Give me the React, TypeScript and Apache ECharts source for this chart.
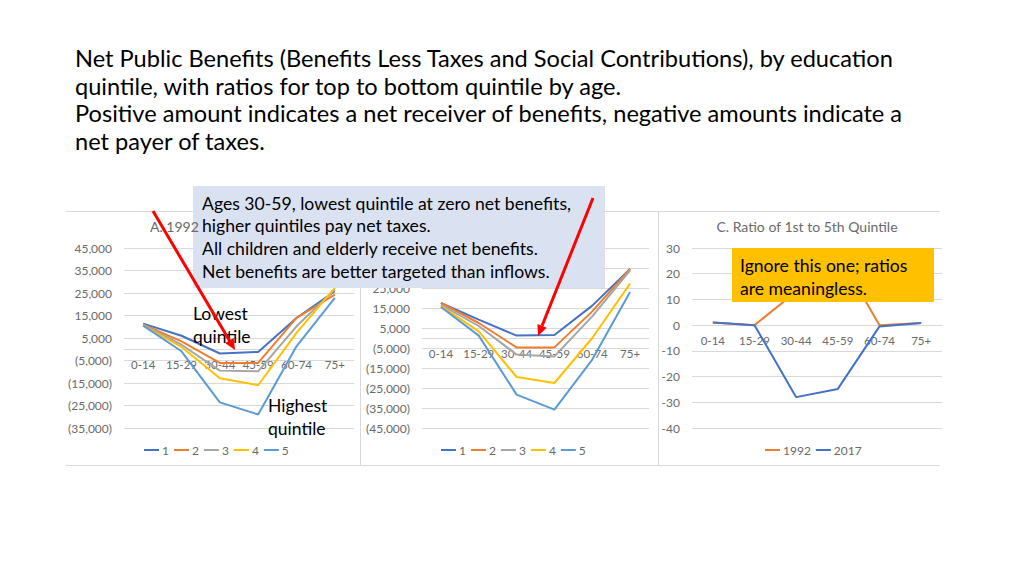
import React, { useEffect, useRef } from "react";
import * as echarts from "echarts";

const categories = ["0-14", "15-29", "30-44", "45-59", "60-74", "75+"];
const quintileNames = ["1", "2", "3", "4", "5"];
const quintileColors = ["#4472C4", "#ED7D31", "#A5A5A5", "#FFC000", "#5B9BD5"];

// A. 1992 net public benefits by quintile
const a1992Q1 = [11400, 6000, -1900, -1200, 13900, 25800];
const a1992Q2 = [11000, 3500, -6100, -6100, 13900, 24300];
const a1992Q3 = [10800, 2000, -9500, -9800, 10200, 26500];
const a1992Q4 = [10500, 1000, -12900, -16000, 7300, 27300];
const a1992Q5 = [10500, -900, -23600, -29000, 1300, 22800];

// B. 2017 net public benefits by quintile
const b2017Q1 = [17500, 9200, 1200, 1500, 16200, 34500];
const b2017Q2 = [17500, 7500, -4700, -4700, 13300, 34500];
const b2017Q3 = [16500, 6000, -8300, -9200, 10800, 33800];
const b2017Q4 = [16000, 3300, -19500, -22500, 0, 27200];
const b2017Q5 = [15500, 1200, -28300, -35800, -10800, 23000];

// C. Ratio series
const ratio1992 = [1, 0, 13, 28, 0, 0.8];
const ratio2017 = [1, 0, -28, -24.8, -0.5, 0.8];

// tick values
const ticksA = [-35000, -25000, -15000, -5000, 5000, 15000, 25000, 35000, 45000];
const ticksB = [-45000, -35000, -25000, -15000, -5000, 5000, 15000, 25000, 35000, 45000];
const labelsB = [-45000, -35000, -25000, -15000, -5000, 5000, 15000, 25000];

const titleLines = [
  "Net Public Benefits (Benefits Less Taxes and Social Contributions), by education",
  "quintile, with ratios for top to bottom quintile by age.",
  "Positive amount indicates a net receiver of benefits, negative amounts indicate a",
  "net payer of taxes.",
];
const calloutLines = [
  "Ages 30-59, lowest quintile at zero net benefits,",
  "higher quintiles pay net taxes.",
  "All children and elderly receive net benefits.",
  "Net benefits are better targeted than inflows.",
];
const ignoreLines = ["Ignore this one; ratios", "are meaningless."];

const FONT = "Lato";
const GRAY = "#6a6a6a";
const GRID = "#D9D9D9";
const GRID_TOP = 248;
const GRID_H = 180;

const fmtParen = (v: number) => {
  const s = Math.abs(v).toLocaleString("en-US");
  return v < 0 ? `(${s})` : s;
};

function makeX(gridIndex: number, min: number, max: number) {
  // place the category axis at the value 0 of the paired value axis
  const zeroY = GRID_TOP + (max / (max - min)) * GRID_H;
  const offset = -(GRID_TOP + GRID_H - zeroY);
  return {
    type: "category",
    gridIndex,
    data: categories,
    position: "bottom",
    offset,
    axisLine: { onZero: false, lineStyle: { color: GRID, width: 1 } },
    axisTick: { show: false },
    axisLabel: { color: GRAY, fontSize: 11.5, fontFamily: FONT, margin: 9, interval: 0 },
  };
}

function makeY(
  gridIndex: number,
  min: number,
  max: number,
  ticks: number[] | null,
  labels: number[] | null,
  fmt?: (v: number) => string
) {
  const y: any = {
    type: "value",
    gridIndex,
    min,
    max,
    axisLine: { show: false },
    axisTick: { show: false },
    splitLine: { lineStyle: { color: GRID, width: 1 } },
    axisLabel: { color: GRAY, fontSize: 12, fontFamily: FONT, margin: 12 },
  };
  if (ticks) {
    y.axisTick.customValues = ticks;
    y.axisLabel.customValues = labels || ticks;
  } else {
    y.interval = 10;
  }
  if (fmt) y.axisLabel.formatter = fmt;
  return y;
}

function lineSeries(name: string, data: number[], color: string, idx: number) {
  return {
    type: "line",
    name,
    data,
    xAxisIndex: idx,
    yAxisIndex: idx,
    symbol: "none",
    showSymbol: false,
    lineStyle: { color, width: 2 },
    itemStyle: { color },
    z: 2,
  };
}

function arrow(x1: number, y1: number, x2: number, y2: number) {
  const dx = x2 - x1;
  const dy = y2 - y1;
  const len = Math.sqrt(dx * dx + dy * dy);
  const ux = dx / len;
  const uy = dy / len;
  const hl = 11;
  const hw = 5;
  const bx = x2 - ux * hl;
  const by = y2 - uy * hl;
  return [
    {
      type: "line",
      z: 120,
      shape: { x1, y1, x2: bx, y2: by },
      style: { stroke: "#FF0000", lineWidth: 3 },
    },
    {
      type: "polygon",
      z: 120,
      shape: {
        points: [
          [x2, y2],
          [bx - uy * hw, by + ux * hw],
          [bx + uy * hw, by - ux * hw],
        ],
      },
      style: { fill: "#FF0000" },
    },
  ];
}

function textEl(text: string, x: number, y: number, size: number, fill: string, align = "left") {
  return {
    type: "text",
    z: 110,
    x,
    y,
    style: { text, fill, font: `${size}px ${FONT}`, align, verticalAlign: "middle" },
  };
}

export default function App() {
  const ref = useRef<HTMLDivElement>(null);
  useEffect(() => {
    if (!ref.current) return;
    const chart = echarts.init(ref.current, undefined, { renderer: "svg" });
    const aData = [a1992Q1, a1992Q2, a1992Q3, a1992Q4, a1992Q5];
    const bData = [b2017Q1, b2017Q2, b2017Q3, b2017Q4, b2017Q5];
    const series: any[] = [];
    quintileNames.forEach((n, i) => series.push(lineSeries(n, aData[i], quintileColors[i], 0)));
    quintileNames.forEach((n, i) => series.push(lineSeries(n, bData[i], quintileColors[i], 1)));
    series.push(lineSeries("1992", ratio1992, "#ED7D31", 2));
    series.push(lineSeries("2017", ratio2017, "#4472C4", 2));

    const legendBase = {
      orient: "horizontal",
      itemWidth: 15,
      itemHeight: 2,
      itemGap: 5,
      icon: "rect",
      textStyle: { color: GRAY, fontSize: 12, fontFamily: FONT, padding: [0, 0, 0, -2] },
      selectedMode: false,
    };

    const graphic: any[] = [];
    const border = (x1: number, y1: number, x2: number, y2: number) => ({
      type: "line",
      z: 0,
      shape: { x1, y1, x2, y2 },
      style: { stroke: GRID, lineWidth: 1 },
    });
    graphic.push(border(66, 211.5, 940, 211.5));
    graphic.push(border(66, 465.5, 940, 465.5));
    graphic.push(border(360.5, 211, 360.5, 465));
    graphic.push(border(658.5, 211, 658.5, 465));

    // chart titles
    graphic.push(textEl("A. 1992", 150, 226, 14, GRAY));
    graphic.push(textEl("C. Ratio of 1st to 5th Quintile", 807, 226, 14, GRAY, "center"));

    // slide title
    titleLines.forEach((t, i) => graphic.push(textEl(t, 75, 58 + i * 27.7, 23.6, "#000")));

    // callout box
    graphic.push({
      type: "rect",
      z: 100,
      shape: { x: 193, y: 186, width: 412, height: 102 },
      style: { fill: "#DAE2F1" },
    });
    calloutLines.forEach((t, i) => graphic.push(textEl(t, 202, 203 + i * 22.7, 17.6, "#000")));

    // yellow box
    graphic.push({
      type: "rect",
      z: 100,
      shape: { x: 732, y: 248, width: 202, height: 54 },
      style: { fill: "#FFC000" },
    });
    ignoreLines.forEach((t, i) => graphic.push(textEl(t, 740, 265 + i * 23, 17.6, "#000")));

    // annotations
    graphic.push(textEl("Lowest", 193, 313, 17.5, "#000"));
    graphic.push(textEl("quintile", 193, 336, 17.5, "#000"));
    graphic.push(textEl("Highest", 268, 405, 17.5, "#000"));
    graphic.push(textEl("quintile", 268, 428, 17.5, "#000"));

    graphic.push(...arrow(153, 211, 235, 350));
    graphic.push(...arrow(593, 198, 538, 336));

    chart.setOption({
      animation: false,
      backgroundColor: "#ffffff",
      textStyle: { fontFamily: FONT },
      grid: [
        { left: 124, top: GRID_TOP, width: 230, height: GRID_H, containLabel: false },
        { left: 422, top: GRID_TOP, width: 227, height: GRID_H, containLabel: false },
        { left: 692, top: GRID_TOP, width: 250, height: GRID_H, containLabel: false },
      ],
      xAxis: [makeX(0, -35000, 45000), makeX(1, -45000, 45000), makeX(2, -40, 30)],
      yAxis: [
        makeY(0, -35000, 45000, ticksA, null, fmtParen),
        makeY(1, -45000, 45000, ticksB, labelsB, fmtParen),
        makeY(2, -40, 30, null, null),
      ],
      legend: [
        { ...legendBase, left: 139, top: 439, data: quintileNames },
        { ...legendBase, left: 436, top: 439, data: quintileNames },
        { ...legendBase, left: 760, top: 439, data: ["1992", "2017"] },
      ],
      series,
      graphic,
    });
    return () => chart.dispose();
  }, []);
  return (
    <div
      ref={ref}
      style={{ position: "absolute", left: 0, top: 0, width: 1024, height: 576, background: "#fff" }}
    />
  );
}
